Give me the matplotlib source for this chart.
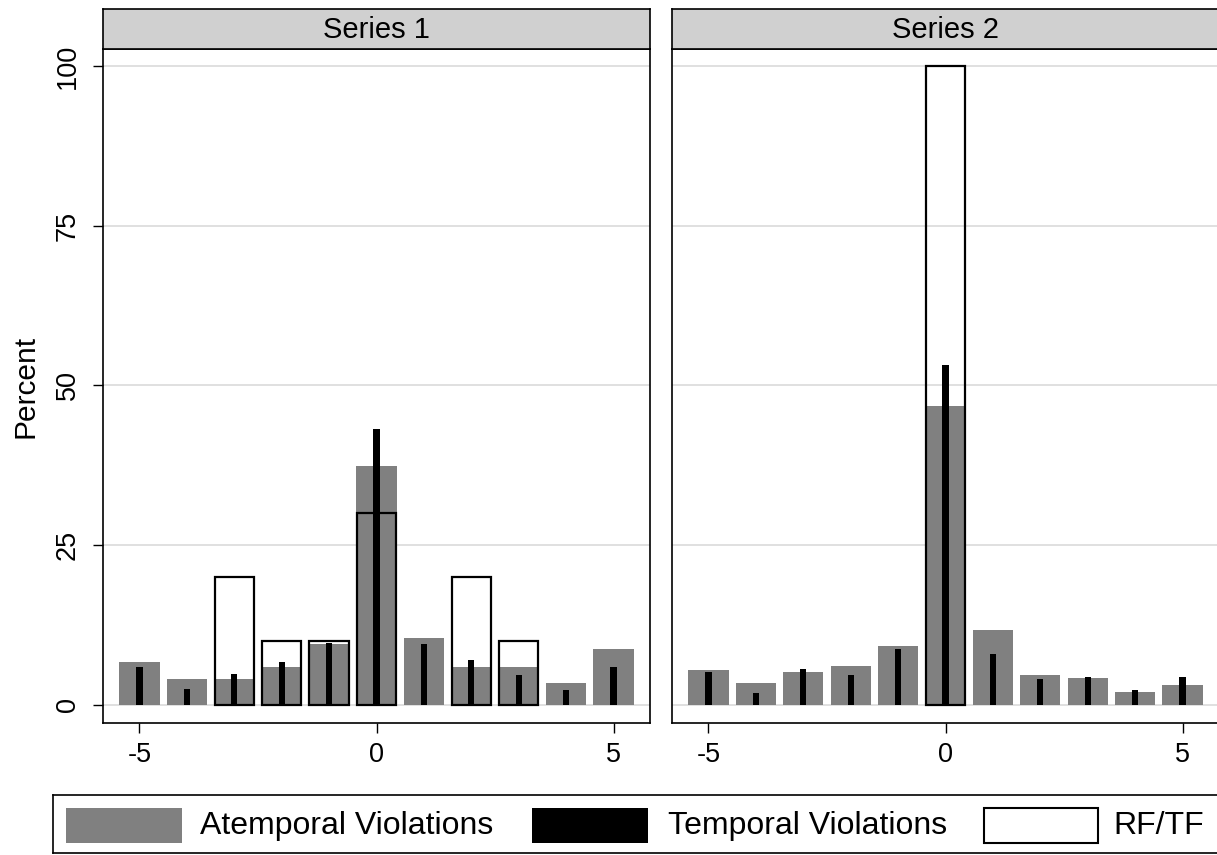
import matplotlib
matplotlib.use('Agg')
import matplotlib.pyplot as plt
from matplotlib.patches import Rectangle

plt.rcParams['font.family'] = ['Liberation Sans', 'DejaVu Sans']

# ---------------- data ----------------
offsets = [-5, -4, -3, -2, -1, 0, 1, 2, 3, 4, 5]
panel_titles = ['Series 1', 'Series 2']

s1_atemporal = [6.7, 4.1, 4.0, 6.0, 9.5, 37.4, 10.5, 5.9, 6.0, 3.5, 8.7]
s1_temporal = [5.9, 2.5, 4.8, 6.7, 9.7, 43.2, 9.5, 7.0, 4.7, 2.3, 5.9]
s1_rftf = [0, 0, 20, 10, 10, 30, 0, 20, 10, 0, 0]

s2_atemporal = [5.5, 3.4, 5.2, 6.1, 9.3, 46.8, 11.7, 4.7, 4.2, 2.1, 3.2]
s2_temporal = [5.2, 1.8, 5.6, 4.7, 8.7, 53.2, 8.0, 4.0, 4.4, 2.3, 4.4]
s2_rftf = [0, 0, 0, 0, 0, 100, 0, 0, 0, 0, 0]

y_ticks = [0, 25, 50, 75, 100]
x_ticks = [-5, 0, 5]
y_label = 'Percent'
legend_labels = ['Atemporal Violations', 'Temporal Violations', 'RF/TF']

# ---------------- styles ----------------
GRAY = '#808080'
STRIP = '#d0d0d0'
GRID = '#e0e0e0'
W, H = 1217, 855
DPI = 100
SPINE_LW = 1.2

fig = plt.figure(figsize=(W / DPI, H / DPI), dpi=DPI)

panels = [
    (103, s1_atemporal, s1_temporal, s1_rftf, panel_titles[0], True),
    (672, s2_atemporal, s2_temporal, s2_rftf, panel_titles[1], False),
]

ax_top, ax_bot, ax_w = 49, 723, 547
for x0, atem, temp, rftf, title, first in panels:
    ax = fig.add_axes([x0 / W, 1 - ax_bot / H, ax_w / W, (ax_bot - ax_top) / H])
    ax.set_xlim(-5.77, 5.77)
    ax.set_ylim(-2.82, 102.66)
    for yt in y_ticks:
        ax.axhline(yt, color=GRID, lw=1.4, zorder=0)
    ax.bar(offsets, atem, width=0.85, color=GRAY, linewidth=0, zorder=2)
    rx = [o for o, v in zip(offsets, rftf) if v > 0]
    rv = [v for v in rftf if v > 0]
    ax.bar(rx, rv, width=0.83, facecolor='none', edgecolor='black',
           linewidth=1.6, zorder=3)
    ax.bar(offsets, temp, width=0.13, color='black', linewidth=0, zorder=4)

    for sp in ax.spines.values():
        sp.set_linewidth(SPINE_LW)
        sp.set_color('black')
    ax.set_xticks(x_ticks)
    ax.set_xticklabels([str(t) for t in x_ticks])
    ax.tick_params(axis='x', direction='out', length=7.2, width=1.0,
                   labelsize=19.5, pad=6.5)
    ax.set_yticks(y_ticks)
    if first:
        ax.set_yticklabels([str(t) for t in y_ticks])
        ax.tick_params(axis='y', direction='out', length=7.2, width=1.0,
                       labelsize=19.5, pad=8.6, labelrotation=90)
        for lab in ax.get_yticklabels():
            lab.set_va('center')
    else:
        ax.tick_params(axis='y', left=False, labelleft=False)

    sax = fig.add_axes([x0 / W, 1 - ax_top / H, ax_w / W, 40 / H])
    sax.set_facecolor(STRIP)
    sax.set_xticks([])
    sax.set_yticks([])
    for sp in sax.spines.values():
        sp.set_linewidth(SPINE_LW)
        sp.set_color('black')
    sax.text(0.5, 0.47, title, transform=sax.transAxes, ha='center',
             va='center', fontsize=21)

fig.text(25 / W, 1 - 386 / H, y_label, rotation=90, ha='center', va='center',
         fontsize=21.5)

# ---------------- legend ----------------
lx0, lx1, ly0, ly1 = 53, 1240, 795, 853
lax = fig.add_axes([lx0 / W, 1 - ly1 / H, (lx1 - lx0) / W, (ly1 - ly0) / H])
lax.set_xlim(lx0, lx1)
lax.set_ylim(ly1, ly0)
lax.set_xticks([])
lax.set_yticks([])
for sp in lax.spines.values():
    sp.set_linewidth(SPINE_LW)
    sp.set_color('black')

handle_x = [66, 532, 984]
handle_w = [116, 116, 114]
text_x = [200, 668, 1113]
handle_styles = [
    dict(facecolor=GRAY, edgecolor='none', linewidth=0),
    dict(facecolor='black', edgecolor='none', linewidth=0),
    dict(facecolor='white', edgecolor='black', linewidth=1.5),
]
for hx, hw, tx, st, lab in zip(handle_x, handle_w, text_x, handle_styles,
                               legend_labels):
    lax.add_patch(Rectangle((hx, 808), hw, 35, **st))
    lax.text(tx, 826, lab, ha='left', va='center', fontsize=23)

fig.savefig('out.png', dpi=DPI)
